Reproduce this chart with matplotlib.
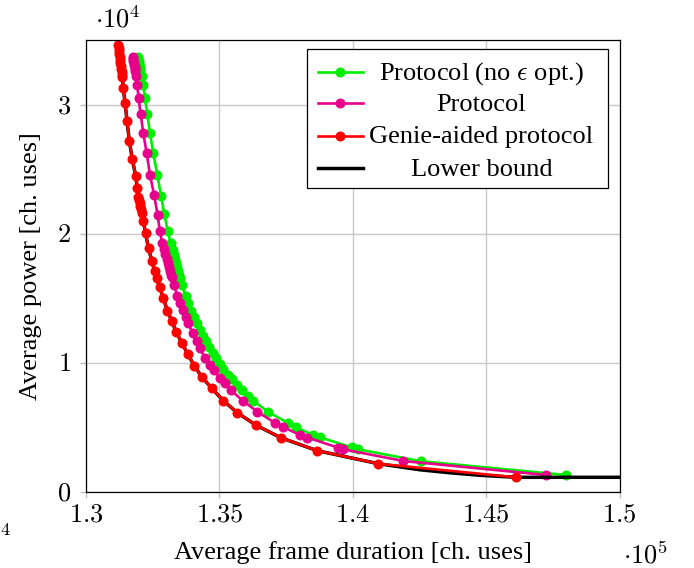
import matplotlib
matplotlib.use("Agg")
import matplotlib.pyplot as plt
from matplotlib.lines import Line2D
from matplotlib.patches import Rectangle

plt.rcParams["font.family"] = ["Liberation Serif", "DejaVu Serif"]
plt.rcParams["mathtext.fontset"] = "cm"

# Average frame duration / average power (channel uses)
noeps_x = [131950, 131965, 131980, 131991, 132003, 132014, 132025, 132040,
           132089, 132149, 132213, 132299, 132400, 132524, 132674, 132813,
           132936, 133064, 133169, 133251, 133311, 133349, 133386, 133424,
           133461, 133499, 133525, 133589, 133731, 133825, 133938, 134031,
           134151, 134275, 134388, 134481, 134624, 134744, 134875, 135025,
           135149, 135306, 135464, 135644, 135839, 136056, 136263, 136818,
           137556, 137875, 138524, 138775, 139964, 140181, 142551, 148000]
noeps_y = [33728, 33573, 33418, 33263, 33108, 32953, 32798, 32643,
           32256, 31519, 30535, 29249, 27776, 26226, 24544, 22956,
           21499, 20228, 19274, 18732, 18344, 18034, 17724, 17414,
           17104, 16794, 16601, 16058, 15167, 14624, 14043, 13539,
           13051, 12532, 12067, 11679, 11191, 10788, 10385, 9936,
           9486, 9083, 8711, 8308, 7882, 7456, 7068, 6200,
           5348, 4991, 4394, 4216, 3441, 3294, 2364, 1294]

proto_x = [131744, 131763, 131778, 131793, 131808, 131823, 131838, 131853,
           131883, 131924, 131969, 132051, 132149, 132276, 132400, 132558,
           132681, 132768, 132850, 132906, 132970, 133019, 133056, 133094,
           133131, 133169, 133214, 133300, 133424, 133525, 133626, 133731,
           133836, 134001, 134144, 134275, 134463, 134631, 134800, 135025,
           135213, 135426, 135869, 136413, 137088, 137388, 138025, 138299,
           139431, 139626, 141899, 147250]
proto_y = [33728, 33573, 33418, 33263, 33108, 32953, 32798, 32643,
           32256, 31519, 30512, 29249, 27776, 26226, 24544, 22971,
           21483, 20243, 19313, 18848, 18461, 18073, 17763, 17453,
           17143, 16833, 16639, 16019, 15167, 14624, 14121, 13578,
           13051, 12276, 11679, 11137, 10339, 9858, 9432, 8789,
           8401, 7882, 7068, 6216, 5324, 5014, 4394, 4201,
           3426, 3294, 2379, 1294]

genie_x = [131211, 131223, 131238, 131249, 131260, 131275, 131290, 131305,
           131320, 131335, 131350, 131361, 131399, 131463, 131538, 131624,
           131736, 131864, 131924, 131961, 131988, 132010, 132033, 132055,
           132089, 132149, 132231, 132344, 132464, 132569, 132651, 132756,
           132899, 133049, 133214, 133375, 133589, 133814, 134061, 134339,
           134714, 135149, 135674, 136364, 137301, 138674, 140961, 146114]
genie_y = [34619, 34387, 34154, 33922, 33689, 33457, 33224, 32992,
           32759, 32527, 32294, 32139, 31264, 30148, 28753, 27203,
           25761, 24467, 23514, 22863, 22607, 22374, 22142, 21909,
           21576, 21003, 20049, 18864, 17903, 17143, 16539, 15864,
           15012, 14028, 13253, 12400, 11548, 10672, 9765, 8913,
           8014, 7053, 6123, 5169, 4185, 3178, 2170, 1116]

# Lower bound: same curve as the genie-aided points plus a few extra samples
bound_extra_x = [131200, 142525, 143650, 144775, 150000]
bound_extra_y = [35100, 1697, 1465, 1271, 1116]
bound_pts = sorted(zip(genie_x + bound_extra_x, genie_y + bound_extra_y))
bound_x = [p[0] for p in bound_pts]
bound_y = [p[1] for p in bound_pts]

x_ticks = [130000, 135000, 140000, 145000, 150000]
x_tick_labels = ["1.3", "1.35", "1.4", "1.45", "1.5"]
y_ticks = [0, 10000, 20000, 30000]
y_tick_labels = ["0", "1", "2", "3"]

series_names = ["Protocol (no $\\epsilon$ opt.)", "Protocol",
                "Genie-aided protocol", "Lower bound"]
c_green = "#00ee00"
c_magenta = "#e8008c"
c_red = "#ff0000"
c_black = "#000000"

FS = 19
W, H = 694, 568
fig = plt.figure(figsize=(W / 100, H / 100), dpi=100)
ax = fig.add_axes([86 / W, 1 - 491.7 / H, 533.5 / W, 451.5 / H])

lw = 1.9
ms = 6.2
blw = 2.5
ax.plot(noeps_x, noeps_y, color=c_green, lw=lw, marker="o", ms=ms, zorder=3)
ax.plot(proto_x, proto_y, color=c_magenta, lw=lw, marker="o", ms=ms, zorder=4)
ax.plot(bound_x, bound_y, color=c_black, lw=blw, zorder=5)
ax.plot(genie_x, genie_y, color=c_red, lw=lw, marker="o", ms=ms, zorder=6)

ax.set_xlim(130000, 150000)
ax.set_ylim(0, 35000)
ax.set_xticks(x_ticks)
ax.set_xticklabels(["$%s$" % t for t in x_tick_labels])
ax.set_yticks(y_ticks)
ax.set_yticklabels(["$%s$" % t for t in y_tick_labels])
ax.tick_params(direction="out", length=4.3, width=1.0, color="#bfbfbf",
               labelsize=FS, top=False, right=False)
ax.tick_params(axis="x", pad=5)
ax.tick_params(axis="y", pad=6.5)
ax.grid(True, color="#c8c8c8", lw=1.0, zorder=0)
ax.set_axisbelow(True)
for s in ax.spines.values():
    s.set_linewidth(0.9)
    s.set_zorder(10)

ax.set_xlabel("Average frame duration [ch. uses]", fontsize=FS)
ax.set_ylabel("Average power [ch. uses]", fontsize=FS)
ax.xaxis.set_label_coords(0.5, (491.7 - 541) / 451.5)
ax.yaxis.set_label_coords((42 - 86) / 533.5, 0.5)

# scale factors
fig.text(95 / W, 1 - 27 / H, r"$\cdot 10^{4}$", fontsize=FS, ha="left", va="baseline")
fig.text(623 / W, 1 - 563 / H, r"$\cdot 10^{5}$", fontsize=FS, ha="left", va="baseline")
fig.text(0.5 / W, 1 - 535 / H, r"$4$", fontsize=13.3, ha="left", va="baseline")

# legend box
def ax_x(px):
    return (px - 86) / 533.5

def ax_y(py):
    return (491.7 - py) / 451.5

box = Rectangle((ax_x(307), ax_y(188)), ax_x(608) - ax_x(307), ax_y(49) - ax_y(188),
                transform=ax.transAxes, facecolor="white", edgecolor="black",
                lw=0.9, zorder=20)
ax.add_patch(box)
handle_specs = [(c_green, "o", lw), (c_magenta, "o", lw), (c_red, "o", lw), (c_black, None, blw)]
handle_rows = [71.7, 103.5, 135.7, 167.7]
text_rows = [79.3, 111.5, 143.5, 176.0]
for (col, mk, w), hy, ty, name in zip(handle_specs, handle_rows, text_rows, series_names):
    ax.add_line(Line2D([ax_x(317.7), ax_x(362.7)], [ax_y(hy), ax_y(hy)],
                       transform=ax.transAxes, color=col, lw=w, zorder=21))
    if mk:
        ax.add_line(Line2D([ax_x(340)], [ax_y(hy)], transform=ax.transAxes,
                           color=col, marker=mk, ms=ms, ls="none", zorder=22))
    ax.text(ax_x(481.5), ax_y(ty), name, transform=ax.transAxes, fontsize=FS,
            ha="center", va="baseline", zorder=22)

fig.savefig("out.png", dpi=100)
